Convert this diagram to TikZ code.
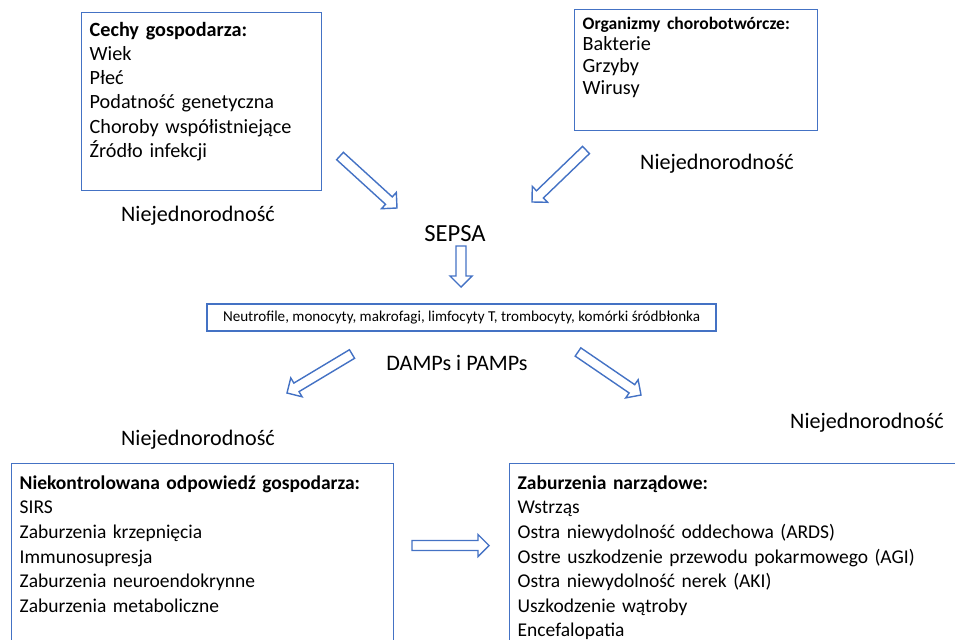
\documentclass[tikz,border=0pt]{standalone}
\usepackage{fontspec}
\setmainfont{Carlito}
\usetikzlibrary{calc}

\definecolor{officeblue}{HTML}{4472C4}

% hollow block arrow between two named points
\newcommand{\blockarrow}[2]{%
  \coordinate (hb) at ($(#2)!0.22cm!(#1)$);
  \draw[flow] ($(#1)!0.1cm!90:(#2)$) -- ($(hb)!0.1cm!90:(#2)$)
    -- ($(hb)!0.22cm!90:(#2)$) -- (#2) -- ($(hb)!0.22cm!-90:(#2)$)
    -- ($(hb)!0.1cm!-90:(#2)$) -- ($(#1)!0.1cm!-90:(#2)$) -- cycle;}

\begin{document}
\begin{tikzpicture}%
  [x=0.02cm,y=-0.02cm,
   box/.style=
    {draw=officeblue,line width=0.8pt,anchor=north west,align=left,
     inner xsep=0.16cm,text height=0.3cm,
     font=\fontsize{11.5}{13.8}\selectfont},
   lowbox/.style=
    {box,inner ysep=0.21cm,text depth=3.62cm,
     font=\fontsize{11.1}{14}\selectfont},
   cellbox/.style=
    {draw=officeblue,line width=0.8pt,minimum width=10.18cm,
     minimum height=0.54cm,font=\fontsize{8.6}{10}\selectfont},
   label/.style={font=\fontsize{12.6}{15}\selectfont},
   flow/.style={draw=officeblue,line width=0.8pt,line join=miter}
  ]
  \useasboundingbox (0,0) rectangle (955,639);
  \clip (0,0) rectangle (955,639);

  \node[box,text width=4.48cm,inner ysep=0.17cm,text depth=2.92cm] (host) at (81,12)
    {\textbf{Cechy gospodarza:}\\Wiek\\Płeć\\Podatność genetyczna\\
     Choroby współistniejące\\Źródło infekcji};
  \node[box,text width=4.54cm,inner ysep=0.09cm,text depth=1.94cm,
        font=\fontsize{11.5}{12.35}\selectfont] (germs) at (574,9)
    {{\fontsize{10}{12.35}\selectfont\textbf{Organizmy chorobotwórcze:}}\\Bakterie\\Grzyby\\Wirusy};

  \node[label] (het1) at (198,216) {Niejednorodność};
  \node[label] (het2) at (717,164) {Niejednorodność};
  \node[label,font=\fontsize{14}{16}\selectfont] (sepsa) at (455,234) {SEPSA};

  \node[cellbox] (cells) at (461.5,317.5)
    {Neutrofile, monocyty, makrofagi, limfocyty T, trombocyty, komórki śródbłonka};

  \node[label] (damps) at (457,363) {DAMPs i PAMPs};
  \node[label] (het3) at (198,440) {Niejednorodność};
  \node[label] (het4) at (867,423) {Niejednorodność};

  \node[lowbox,text width=7.32cm] (response) at (11,463)
    {\textbf{Niekontrolowana odpowiedź gospodarza:}\\SIRS\\Zaburzenia krzepnięcia\\
     Immunosupresja\\Zaburzenia neuroendokrynne\\Zaburzenia metaboliczne};
  \node[lowbox,text width=9cm] (organs) at (509,463)
    {\textbf{Zaburzenia narządowe:}\\Wstrząs\\Ostra niewydolność oddechowa (ARDS)\\
     Ostre uszkodzenie przewodu pokarmowego (AGI)\\Ostra niewydolność nerek (AKI)\\
     Uszkodzenie wątroby\\Encefalopatia};

  \coordinate (a1s) at (340,156);  \coordinate (a1e) at (397,208);
  \coordinate (a2s) at (586,150);  \coordinate (a2e) at (532,202);
  \coordinate (a3s) at (461,246);  \coordinate (a3e) at (461,287);
  \coordinate (a4s) at (352,354);  \coordinate (a4e) at (287,393);
  \coordinate (a5s) at (578,352);  \coordinate (a5e) at (641,395);
  \coordinate (a6s) at (412,545.5);\coordinate (a6e) at (489,545.5);
  \blockarrow{a1s}{a1e}
  \blockarrow{a2s}{a2e}
  \blockarrow{a3s}{a3e}
  \blockarrow{a4s}{a4e}
  \blockarrow{a5s}{a5e}
  \blockarrow{a6s}{a6e}
\end{tikzpicture}
\end{document}
